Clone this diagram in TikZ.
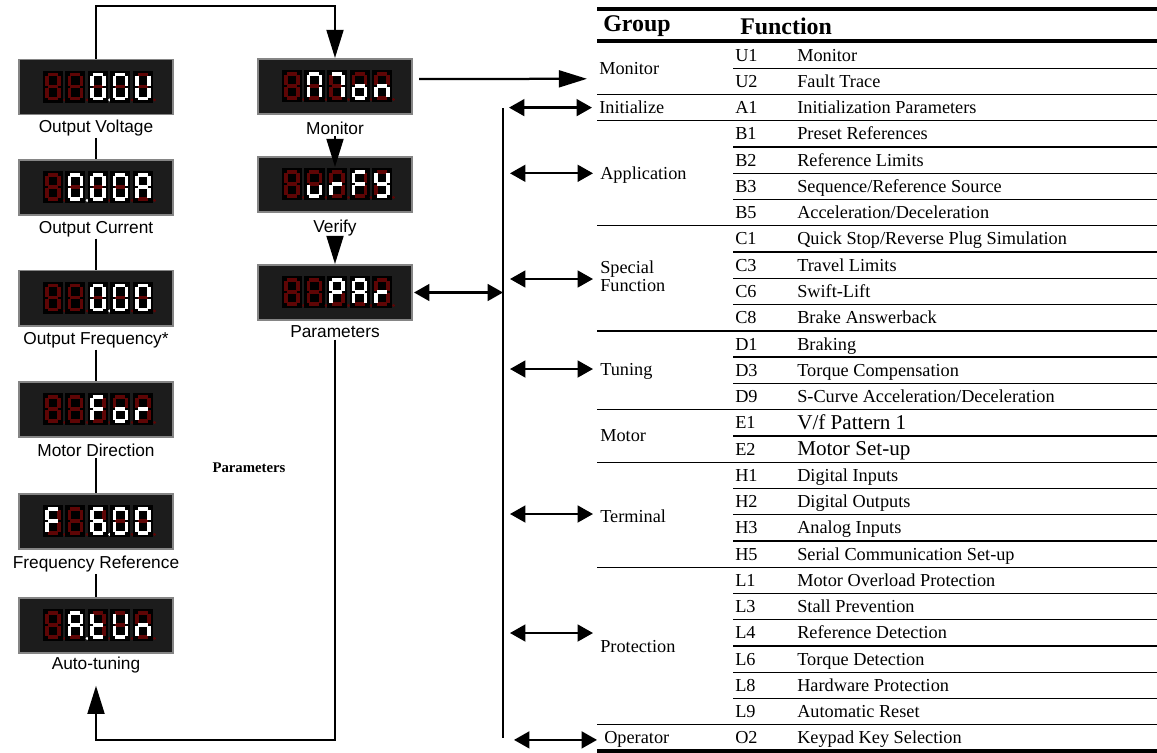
\documentclass[tikz,border=0pt]{standalone}
\usepackage{fontspec}
\setmainfont{Liberation Serif}
\newfontfamily\panelfont{Liberation Sans}
\usetikzlibrary{arrows.meta,calc}

\definecolor{segred}{HTML}{5E0505}
\definecolor{dispbg}{HTML}{1C1C1C}
\definecolor{dispframe}{HTML}{858585}

% seven segment bars, one cell is 18 x 30 px
\def\sega{(4,3) -- (14,3)}
\def\segb{(15,4) -- (15,14)}
\def\segc{(15,16) -- (15,26)}
\def\segd{(4,27) -- (14,27)}
\def\sege{(3,16) -- (3,26)}
\def\segf{(3,4) -- (3,14)}
\def\segg{(4,15) -- (14,15)}
\def\segz{(9,15)}

% #1 x offset, #2 lit bars, #3 digit no., #4 digit with lit point
\newcommand{\segdigit}[4]{%
  \begin{scope}[shift={(#1,13)}]
    \fill[black] (-1,-1) rectangle (19,31);
    \foreach \s in {a,b,c,d,e,f,g}
      \draw[segoff] \csname seg\s\endcsname;
    \foreach \s in {#2}
      \draw[segon] \csname seg\s\endcsname;
    \ifnum#3=#4\relax
      \fill[white] (20.6,28.4) circle[radius=1.1pt];
    \else
      \fill[segred] (20.6,28.4) circle[radius=1.1pt];
    \fi
  \end{scope}}

% #1 display node, #2-#6 the five digits, #7 digit with lit point
\newcommand{\segdisplay}[7]{%
  \begin{scope}[shift={(#1.north west)}]
    \segdigit{26}{#2}{1}{#7}
    \segdigit{48.5}{#3}{2}{#7}
    \segdigit{71}{#4}{3}{#7}
    \segdigit{93.5}{#5}{4}{#7}
    \segdigit{116}{#6}{5}{#7}
  \end{scope}}

\begin{document}
\begin{tikzpicture}[
    x=0.025cm, y=-0.025cm,
    disp/.style={draw=dispframe, fill=dispbg, line width=1.4pt,
      minimum width=3.85cm, minimum height=1.375cm, inner sep=0pt},
    segoff/.style={draw=segred, line width=2.2pt},
    segon/.style={draw=white, line width=2.2pt},
    displab/.style={font=\panelfont\fontsize{12.3}{13}\selectfont, inner sep=1pt},
    conn/.style={line width=1.6pt},
    bigtip/.style={conn, -{Triangle[length=20pt,width=12pt]}},
    dbl/.style={conn, {Triangle[length=11pt,width=12pt]}-{Triangle[length=11pt,width=12pt]}},
    rule/.style={line width=0.9pt},
    rulemid/.style={line width=1.6pt},
    rulethick/.style={line width=2.6pt},
    head/.style={anchor=west, inner sep=0pt, font=\fontsize{17}{18}\selectfont\bfseries},
    cell/.style={anchor=west, inner sep=0pt, font=\fontsize{13}{13}\selectfont,
      text height=8.6pt, text depth=0pt},
    bigcell/.style={cell, font=\fontsize{15}{15}\selectfont, text height=9.9pt},
  ]
  \useasboundingbox (0,0) rectangle (1157,752);

  % display panels, left column
  \node[disp] (volt) at (96,87) {};
  \node[disp] (curr) at (96,187.5) {};
  \node[disp] (freq) at (96,298) {};
  \node[disp] (dir)  at (96,409.5) {};
  \node[disp] (fref) at (96,521.5) {};
  \node[disp] (atun) at (96,625.5) {};
  % display panels, middle column
  \node[disp] (mon) at (335,86.5) {};
  \node[disp] (ver) at (335,184.5) {};
  \node[disp] (par) at (335,292.5) {};

  \segdisplay{volt}{z}{z}{a,b,c,d,e,f}{a,b,c,d,e,f}{b,c,d,e,f}{3}
  \segdisplay{curr}{z}{a,b,c,d,e,f}{a,b,c,d,e,f}{a,b,c,d,e,f}{a,b,c,e,f,g}{2}
  \segdisplay{freq}{z}{z}{a,b,c,d,e,f}{a,b,c,d,e,f}{a,b,c,d,e,f}{3}
  \segdisplay{dir}{z}{z}{a,e,f,g}{c,d,e,g}{e,g}{0}
  \segdisplay{fref}{a,e,f,g}{z}{a,c,d,e,f,g}{a,b,c,d,e,f}{a,b,c,d,e,f}{3}
  \segdisplay{atun}{z}{a,b,c,e,f,g}{d,e,f,g}{b,c,d,e,f}{c,e,g}{2}
  \segdisplay{mon}{z}{a,b,c,e,f}{a,b,c}{c,d,e,g}{c,e,g}{0}
  \segdisplay{ver}{z}{c,d,e}{e,g}{a,e,f,g}{b,c,d,f,g}{0}
  \segdisplay{par}{z}{z}{a,b,e,f,g}{a,b,c,e,f,g}{e,g}{0}

  \node[displab] (voltlab) at (96,128) {Output Voltage};
  \node[displab] (currlab) at (96,229) {Output Current};
  \node[displab] (freqlab) at (96,340) {Output Frequency*};
  \node[displab] (dirlab)  at (96,450) {Motor Direction};
  \node[displab] (freflab) at (96,564) {Frequency Reference};
  \node[displab] (atunlab) at (96,665) {Auto-tuning};
  \node[displab] (monlab) at (335,128) {Monitor};
  \node[displab] (verlab) at (335,228) {Verify};
  \node[displab] (parlab) at (335,332) {Parameters};

  \node[font=\fontsize{10.5}{12}\selectfont\bfseries] (straylab) at (249,468) {Parameters};

  % monitor loop on the left
  \coordinate (topbend) at (335,6);
  \coordinate (loopbot) at (335,740);
  \draw[bigtip] (volt.north) |- (topbend) -- (mon.north);
  \draw[conn] (voltlab) -- (curr);
  \draw[conn] (currlab) -- (freq);
  \draw[conn] (freqlab) -- (dir);
  \draw[conn] (dirlab) -- (fref);
  \draw[conn] (freflab) -- (atun);
  \draw[bigtip] (monlab) -- ($(ver.north)+(0,11)$);
  \draw[bigtip] (verlab) -- (par.north);
  \draw[bigtip] (parlab) -- (loopbot) -| ($(atunlab.south)+(0,11)$);

  % parameter groups table
  \draw[rulethick] (597,9) -- (1157,9);
  \node[head] (hgrp) at (603,26) {Group};
  \node[head] (hfun) at (740,26) {Function};
  \draw[rulethick] (597,41) -- (1157,41);

  \foreach \code/\func [count=\k from 0] in {U1/Monitor, U2/Fault Trace,
      A1/Initialization Parameters, B1/Preset References, B2/Reference Limits,
      B3/Sequence\slash Reference Source, B5/Acceleration\slash Deceleration,
      C1/Quick Stop\slash Reverse Plug Simulation, C3/Travel Limits,
      C6/Swift-Lift, C8/Brake Answerback, D1/Braking, D3/Torque Compensation,
      D9/S-Curve Acceleration\slash Deceleration} {
    \node[cell] (code\k) at (735,{55.1+26.26*\k}) {\code};
    \node[cell] (fn\k) at (797,{55.1+26.26*\k}) {\func};
  }
  \node[cell] (code14) at (735,{55.1+26.26*14}) {E1};
  \node[bigcell] (fn14) at (797,{55.1+26.26*14}) {V\slash f Pattern 1};
  \node[cell] (code15) at (735,{55.1+26.26*15}) {E2};
  \node[bigcell] (fn15) at (797,{55.1+26.26*15}) {Motor Set-up};
  \foreach \code/\func [count=\k from 16] in {H1/Digital Inputs,
      H2/Digital Outputs, H3/Analog Inputs, H5/Serial Communication Set-up,
      L1/Motor Overload Protection, L3/Stall Prevention,
      L4/Reference Detection, L6/Torque Detection, L8/Hardware Protection,
      L9/Automatic Reset, O2/Keypad Key Selection} {
    \node[cell] (code\k) at (735,{55.1+26.26*\k}) {\code};
    \node[cell] (fn\k) at (797,{55.1+26.26*\k}) {\func};
  }

  \node[cell] (grpmon) at (599,68.3) {Monitor};
  \node[cell] (grpinit) at (599,107.6) {Initialize};
  \node[cell] (grpapp) at (600,173.3) {Application};
  \node[anchor=west, inner sep=0pt, align=left, font=\fontsize{13}{13}\selectfont]
    (grpspec) at (600,276) {Special\\Function};
  \node[cell] (grptun) at (600,369) {Tuning};
  \node[cell] (grpmot) at (600,435.9) {Motor};
  \node[cell] (grpterm) at (600,516) {Terminal};
  \node[cell] (grpprot) at (600,646) {Protection};
  \node[cell] (grpop) at (604,737.9) {Operator};

  % rules between rows
  \foreach \k in {2,3,7,14,16,20,26}
    \draw[rule] (597,{42+26.26*\k}) -- (1157,{42+26.26*\k});
  \foreach \k in {1,4,5,6,8,9,10,11,12,13,15,17,18,19,21,22,23,24,25}
    \draw[rule] (733,{42+26.26*\k}) -- (1157,{42+26.26*\k});
  \draw[rulemid] (597,{42+26.26*11}) -- (733,{42+26.26*11});
  \draw[rulethick] (597,751) -- (1157,751);

  % links from the displays into the table
  \coordinate (trunktop) at (503,108);
  \coordinate (trunkbot) at (503,738);
  \draw[conn] (trunktop) -- (trunkbot);
  \draw[dbl] ($(par.east)+(1,0)$) -- (par.east -| trunktop);
  \draw[bigtip] ($(mon.east)+(6,-7.5)$) -- ($(grpmon.west)+(-12,10.5)$);
  \foreach \g/\dy in {grpinit/0, grpapp/0, grpspec/3, grptun/0,
      grpterm/-2, grpprot/-13, grpop/2}
    \draw[dbl] ($(\g.west)+(-90,\dy)$) -- ($(\g.west)+(-7,\dy)$);
\end{tikzpicture}
\end{document}
